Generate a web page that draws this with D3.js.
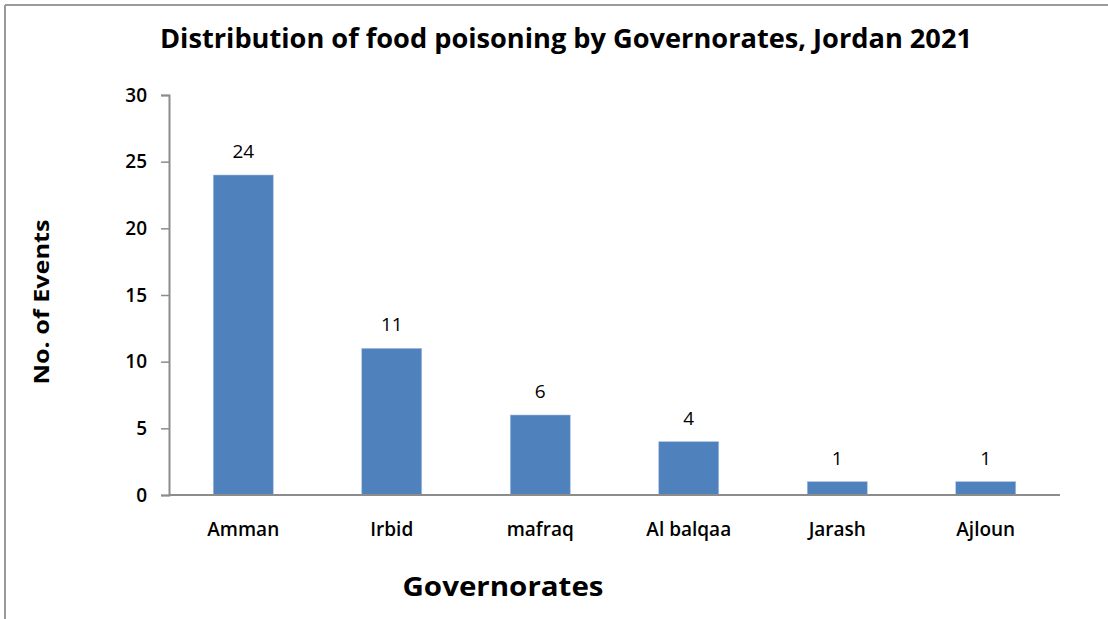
<!DOCTYPE html>
<html>
<head>
<meta charset="utf-8">
<script src="https://cdn.jsdelivr.net/npm/d3@7/dist/d3.min.js"></script>
<style>
  html, body { margin: 0; padding: 0; background: #ffffff; }
  svg { display: block; }
  text { font-family: "Open Sans", "Liberation Sans", sans-serif; fill: #000; }
</style>
</head>
<body>
<svg id="chart" width="1108" height="619"></svg>
<script>
const categories = ["Amman", "Irbid", "mafraq", "Al balqaa", "Jarash", "Ajloun"];
const values = [24, 11, 6, 4, 1, 1];
const yTicks = [0, 5, 10, 15, 20, 25, 30];
const titleText = "Distribution of food poisoning by Governorates, Jordan 2021";
const xTitle = "Governorates";
const yTitle = "No. of Events";

const svg = d3.select("#chart");
const W = 1108, H = 619;
const plot = { left: 169, right: 1060, top: 95, bottom: 495 };

// frame (top and left border)
svg.append("line").attr("x1", 5).attr("x2", W).attr("y1", 5).attr("y2", 5)
  .attr("stroke", "#9a9a9a").attr("stroke-width", 2);
svg.append("line").attr("x1", 5).attr("x2", 5).attr("y1", 5).attr("y2", H)
  .attr("stroke", "#9a9a9a").attr("stroke-width", 2);

const x = d3.scaleBand().domain(categories)
  .range([plot.left, plot.right])
  .paddingInner(0.596).paddingOuter(0.298);
const y = d3.scaleLinear().domain([0, 30]).range([plot.bottom, plot.top]);

// bars
svg.append("g").selectAll("rect").data(categories).join("rect")
  .attr("x", d => x(d))
  .attr("y", (d, i) => y(values[i]))
  .attr("width", x.bandwidth())
  .attr("height", (d, i) => y(0) - y(values[i]))
  .attr("fill", "#4f81bd")
  .attr("stroke", "#a9c2e0").attr("stroke-width", 0.6);

// y axis
const yAxis = svg.append("g").attr("transform", `translate(${plot.left},0)`)
  .call(d3.axisLeft(y).tickValues(yTicks).tickSize(8).tickPadding(14).tickFormat(d3.format("d")));
yAxis.select(".domain").attr("stroke", "#8c8c8c").attr("stroke-width", 2);
yAxis.selectAll(".tick line").attr("stroke", "#8c8c8c").attr("stroke-width", 1.5);
yAxis.selectAll(".tick text")
  .style("font-family", "'Open Sans', sans-serif")
  .attr("font-size", 19).attr("font-weight", 600).attr("fill", "#000");

// x axis
const xAxis = svg.append("g").attr("transform", `translate(0,${plot.bottom})`)
  .call(d3.axisBottom(x).tickSize(0).tickPadding(0).tickSizeOuter(0));
xAxis.select(".domain").attr("stroke", "#8c8c8c").attr("stroke-width", 2)
  .attr("d", `M${plot.left},0H${plot.right}`);
xAxis.selectAll(".tick text")
  .attr("y", 41).attr("dy", 0)
  .style("font-family", "'Open Sans', sans-serif")
  .attr("font-size", 19).attr("font-weight", 600).attr("fill", "#000");

// data labels
svg.append("g").selectAll("text").data(categories).join("text")
  .attr("x", d => x(d) + x.bandwidth() / 2)
  .attr("y", (d, i) => y(values[i]) - 17)
  .attr("text-anchor", "middle")
  .attr("font-size", 19)
  .attr("fill", "#222")
  .text((d, i) => values[i]);

// title
svg.append("text").attr("x", 566).attr("y", 48)
  .attr("text-anchor", "middle").attr("font-size", 26).attr("font-weight", "bold")
  .attr("textLength", 812).attr("lengthAdjust", "spacingAndGlyphs")
  .text(titleText);

// x title
svg.append("text").attr("x", 503).attr("y", 596)
  .attr("text-anchor", "middle").attr("font-size", 27).attr("font-weight", "bold")
  .attr("textLength", 201).attr("lengthAdjust", "spacingAndGlyphs")
  .text(xTitle);

// y title
svg.append("text")
  .attr("transform", "translate(49,302) rotate(-90)")
  .attr("text-anchor", "middle").attr("font-size", 22).attr("font-weight", "bold")
  .attr("textLength", 165).attr("lengthAdjust", "spacingAndGlyphs")
  .text(yTitle);
</script>
</body>
</html>
